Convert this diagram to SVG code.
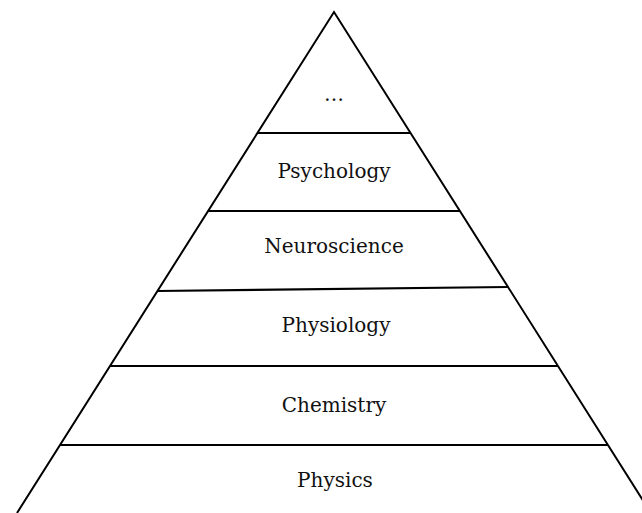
<svg xmlns="http://www.w3.org/2000/svg" width="642" height="513" viewBox="0 0 642 513">
  <style>
    .edge { stroke: #000; stroke-width: 2; fill: none; stroke-linejoin: miter; }
    .tier { stroke: #000; stroke-width: 2.2; }
    .label { font-family: "DejaVu Serif", "Liberation Serif", serif; font-size: 20px; fill: #111; text-anchor: middle; }
  </style>
  <rect width="642" height="513" fill="#fff"/>

  <!-- outer triangle and the dividing lines between tiers -->
  <g id="connectors">
    <polyline class="edge" points="17,513 334,12 651,513"/>
    <line class="tier" x1="257" y1="133" x2="411" y2="133"/>
    <line class="tier" x1="208" y1="211" x2="460" y2="211"/>
    <line class="tier" x1="157" y1="291" x2="508" y2="287"/>
    <line class="tier" x1="110" y1="366" x2="558" y2="366"/>
    <line class="tier" x1="60" y1="445" x2="608" y2="445"/>
  </g>

  <g id="tier-top"><text class="label" x="334" y="101">…</text></g>
  <g id="tier-psychology"><text class="label" x="334" y="178">Psychology</text></g>
  <g id="tier-neuroscience"><text class="label" x="334" y="253">Neuroscience</text></g>
  <g id="tier-physiology"><text class="label" x="336" y="332">Physiology</text></g>
  <g id="tier-chemistry"><text class="label" x="334" y="412">Chemistry</text></g>
  <g id="tier-physics"><text class="label" x="335" y="487">Physics</text></g>
</svg>
